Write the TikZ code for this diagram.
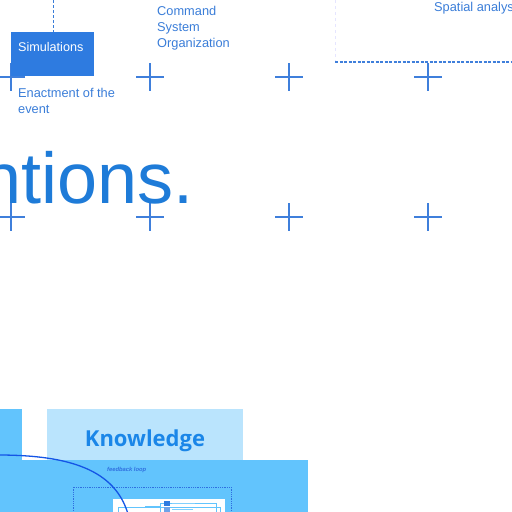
\documentclass[tikz,border=0pt]{standalone}
\usepackage{fontspec}
\setmainfont{Liberation Sans}
\newfontfamily\knowfont{Open Sans}
\definecolor{simblue}{HTML}{2E7BE0}
\definecolor{txtblue}{HTML}{3A7DD8}
\definecolor{bigblue}{HTML}{1E7BD8}
\definecolor{crossblue}{HTML}{3F7FDB}
\definecolor{paleblue}{HTML}{BAE4FD}
\definecolor{skyblue}{HTML}{62C4FD}
\definecolor{curveblue}{HTML}{1455E6}
\definecolor{knowblue}{HTML}{1A86E8}
\definecolor{dotblue}{HTML}{2F6FE0}
\begin{document}
\begin{tikzpicture}[x=1pt,y=-1pt,
  plus/.style={crossblue,line width=1.3pt},
  lbl/.style={text=txtblue,font=\fontsize{12.8}{16}\selectfont,anchor=north west,inner sep=0pt,align=left},
]
\useasboundingbox (0,0) rectangle (512,512);
% crosses
\foreach \cx in {11,150,289,428}{
  \foreach \cy in {77,217}{
    \draw[plus] (\cx-14,\cy) -- (\cx+14,\cy);
    \draw[plus] (\cx,\cy-14) -- (\cx,\cy+14);
  }
}
% simulations
\node[fill=simblue,minimum width=83pt,minimum height=44pt,inner sep=0pt,anchor=north west] (sim) at (11,32) {};
\node[text=white,font=\fontsize{12.6}{14}\selectfont,anchor=west,inner sep=0pt] (simt) at (18,47) {Simulations};
\coordinate (topdash) at (53,0);
\draw[txtblue,dashed,dash pattern=on 3pt off 2pt,line width=0.6pt] (topdash) -- (sim.north west -| topdash);
\node[lbl] (enact) at (18,88.5) {Enactment of the\\event};
\node[lbl] (cmd) at (157,6.5) {Command\\System\\Organization};
\node[lbl] (spat) at (434,2) {Spatial analysis};
% right dashed region
\coordinate (rA) at (335,0);
\coordinate (rB) at (335,62);
\coordinate (rC) at (515,62);
\draw[blue!10,dashed,line width=0.8pt] (rA) -- (rB);
\draw[crossblue,line width=1.3pt,dash pattern=on 3pt off 1.5pt] (rB) -- (rC);
% big text
\node[text=bigblue,font=\fontsize{72}{80}\selectfont,anchor=base west,inner sep=0pt] (big) at (-19,203) {ntions.};
% bottom
\node[fill=skyblue,minimum width=22pt,minimum height=60pt,inner sep=0pt,anchor=north west] (lbox) at (0,409) {};
\node[fill=paleblue,minimum width=196pt,minimum height=52pt,inner sep=0pt,anchor=north west] (kbox) at (47,409) {};
\node[text=knowblue,font=\knowfont\bfseries\fontsize{22}{26}\selectfont,inner sep=0pt,anchor=base] (ktxt) at (145,446) {Knowledge};
\node[fill=skyblue,minimum width=308pt,minimum height=60pt,inner sep=0pt,anchor=north west] (base) at (0,460) {};
\node[text=dotblue,font=\itshape\bfseries\fontsize{5.8}{6}\selectfont,inner sep=0pt,anchor=west] (fb) at (107,470) {feedback loop};
\draw[dotblue,densely dotted,line width=0.8pt] (73,520) -- (73,487) -- (231,487) -- (231,520);
\node[fill=white,minimum width=112pt,minimum height=20pt,inner sep=0pt,anchor=north west] (wbox) at (113,499) {};
\draw[skyblue,line width=0.6pt] (118,515) -- (118,507) -- (220,507) -- (220,515);
\draw[skyblue,line width=0.6pt] (145,506) -- (160,506);
\draw[skyblue,line width=0.6pt] (160,515) -- (160,503) -- (216,503) -- (216,515);
\fill[simblue] (164,501) rectangle (170,506);
\fill[simblue!70] (164,507) rectangle (170,512);
\draw[skyblue!80,line width=1.2pt] (172,503.5) -- (195,503.5);
\draw[skyblue!80,line width=1.2pt] (172,509.5) -- (193,509.5);
% curve
\coordinate (cs) at (-2,455);
\coordinate (ce) at (128,514);
\draw[curveblue,line width=1.3pt] (cs) .. controls (70,455) and (115,470) .. (ce);
\end{tikzpicture}
\end{document}
